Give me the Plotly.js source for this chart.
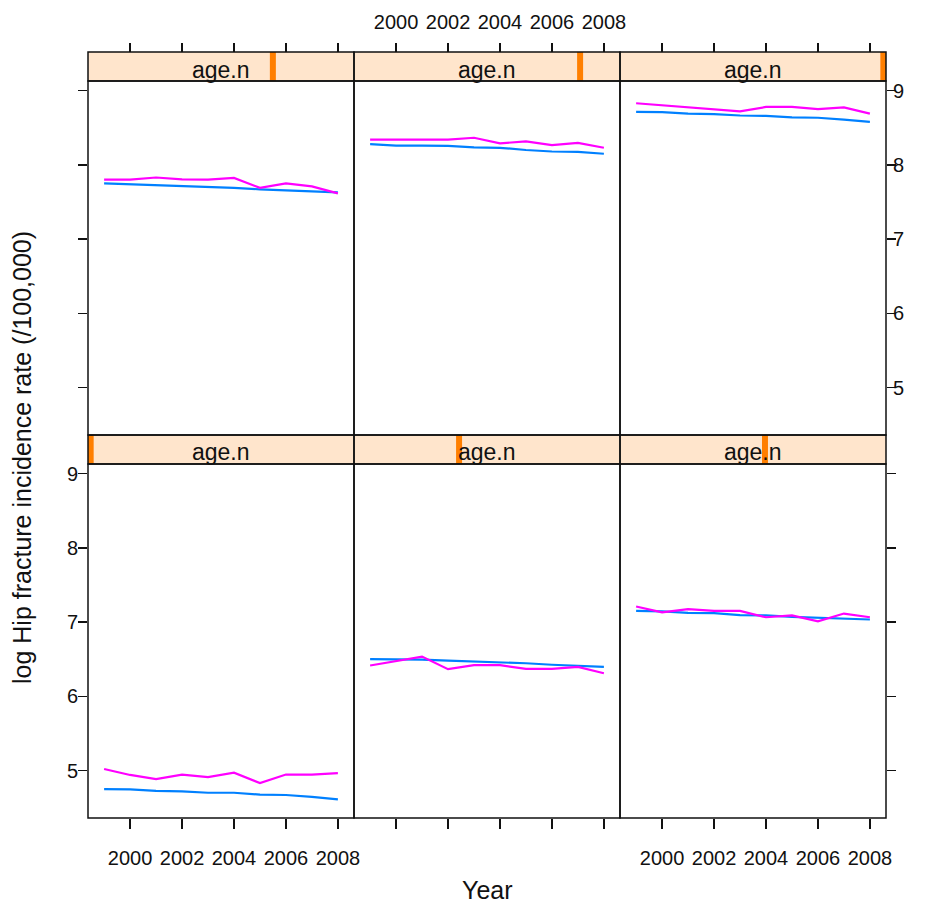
<!DOCTYPE html>
<html>
<head>
<meta charset="utf-8">
<script src="https://cdn.plot.ly/plotly-3.0.1.min.js"></script>
<style>html,body{margin:0;padding:0;background:#fff;}#chart{width:926px;height:907px;}</style>
</head>
<body>
<div id="chart"></div>
<script>
// ---- data ----
const years = [1999, 2000, 2001, 2002, 2003, 2004, 2005, 2006, 2007, 2008];
const xTicks = [2000, 2002, 2004, 2006, 2008];
const yTicks = [5, 6, 7, 8, 9];
const stripLabel = "age.n";
// panels in lattice order: bottom-left, bottom-middle, bottom-right, top-left, top-middle, top-right
const blue1 = [4.75, 4.745, 4.725, 4.72, 4.70, 4.70, 4.675, 4.67, 4.645, 4.61];
const mag1  = [5.02, 4.94, 4.885, 4.945, 4.91, 4.97, 4.83, 4.945, 4.945, 4.965];
const blue2 = [6.50, 6.50, 6.495, 6.48, 6.47, 6.455, 6.445, 6.425, 6.405, 6.395];
const mag2  = [6.415, 6.475, 6.535, 6.365, 6.42, 6.42, 6.37, 6.37, 6.395, 6.31];
const blue3 = [7.15, 7.145, 7.125, 7.12, 7.095, 7.09, 7.07, 7.06, 7.04, 7.035];
const mag3  = [7.21, 7.13, 7.175, 7.15, 7.15, 7.065, 7.09, 7.01, 7.115, 7.065];
const blue4 = [7.75, 7.74, 7.72, 7.71, 7.70, 7.69, 7.67, 7.66, 7.645, 7.63];
const mag4  = [7.80, 7.80, 7.83, 7.805, 7.80, 7.825, 7.69, 7.75, 7.71, 7.615];
const blue5 = [8.28, 8.26, 8.26, 8.255, 8.235, 8.23, 8.20, 8.18, 8.175, 8.15];
const mag5  = [8.34, 8.34, 8.34, 8.34, 8.365, 8.29, 8.315, 8.265, 8.295, 8.23];
const blue6 = [8.715, 8.71, 8.69, 8.685, 8.665, 8.66, 8.64, 8.635, 8.61, 8.58];
const mag6  = [8.83, 8.805, 8.78, 8.75, 8.72, 8.78, 8.78, 8.75, 8.775, 8.69];
// shingle level position of age.n within each strip (0..1)
const stripLevel = [0.01, 0.395, 0.545, 0.695, 0.85, 0.99];

const blueSeries = [blue1, blue2, blue3, blue4, blue5, blue6];
const magSeries = [mag1, mag2, mag3, mag4, mag5, mag6];

// ---- layout geometry (pixels) ----
const W = 926, H = 907;
const px = v => v / W;
const py = v => 1 - v / H;
const colX = [[88, 354], [354, 620], [620, 886]];
const rowPanel = { bottom: [464, 818], top: [81, 435] };
const rowStrip = { bottom: [435, 464], top: [52, 81] };
const xRange = [1998.38, 2008.62];
const yRange = [4.36, 9.13];
const FONT = "Arial, 'Liberation Sans', sans-serif";
const BLUE = "#0080ff", MAG = "#ff00ff";
const TICKFONT = { family: FONT, size: 20, color: "#111" };

const traces = [];
const layout = {
  width: W, height: H,
  margin: { l: 0, r: 0, t: 0, b: 0 },
  paper_bgcolor: "#fff", plot_bgcolor: "rgba(0,0,0,0)",
  showlegend: false,
  font: { family: FONT, color: "#111" },
  shapes: [], annotations: []
};

for (let i = 0; i < 6; i++) {
  const n = i + 1;
  const col = i % 3;
  const row = i < 3 ? "bottom" : "top";
  const [x0, x1] = colX[col];
  const [p0, p1] = rowPanel[row];
  const [s0, s1] = rowStrip[row];
  const xa = "xaxis" + n, ya = "yaxis" + n;

  const xAx = {
    domain: [px(x0), px(x1)], range: xRange, anchor: "y" + n,
    showgrid: false, zeroline: false, showline: false,
    tickvals: xTicks, ticktext: xTicks.map(String),
    ticks: "", showticklabels: false, fixedrange: true,
    tickfont: TICKFONT
  };
  if (row === "bottom") {
    xAx.ticks = "outside"; xAx.ticklen = 10; xAx.tickwidth = 1.5; xAx.tickcolor = "#111";
    xAx.showticklabels = (col !== 1);
    xAx.ticklabelstandoff = 12;
  }
  layout[xa] = xAx;

  const yAx = {
    domain: [py(p1), py(p0)], range: yRange, anchor: "x" + n,
    showgrid: false, zeroline: false, showline: false,
    tickvals: yTicks, ticktext: yTicks.map(String),
    ticks: "", showticklabels: false, fixedrange: true,
    tickfont: TICKFONT
  };
  if (col === 0) {
    yAx.side = "left"; yAx.ticks = "outside"; yAx.ticklen = 9; yAx.tickwidth = 1.5; yAx.tickcolor = "#111";
    yAx.showticklabels = (row === "bottom"); yAx.ticklabelstandoff = -4;
  }
  if (col === 2) {
    yAx.side = "right"; yAx.ticks = "outside"; yAx.ticklen = 9; yAx.tickwidth = 1.5; yAx.tickcolor = "#111";
    yAx.showticklabels = (row === "top"); yAx.ticklabelstandoff = -7;
  }
  layout[ya] = yAx;

  traces.push({ x: years, y: blueSeries[i], xaxis: "x" + n, yaxis: "y" + n, type: "scatter", mode: "lines",
    line: { color: BLUE, width: 2.2 }, hoverinfo: "skip" });
  traces.push({ x: years, y: magSeries[i], xaxis: "x" + n, yaxis: "y" + n, type: "scatter", mode: "lines",
    line: { color: MAG, width: 2.2 }, hoverinfo: "skip" });

  // strip background
  layout.shapes.push({ type: "rect", xref: "paper", yref: "paper",
    x0: px(x0), x1: px(x1), y0: py(s1), y1: py(s0),
    fillcolor: "#ffe5cc", line: { width: 0 }, layer: "below" });
  // shingle bar
  const c = x0 + stripLevel[i] * (x1 - x0);
  layout.shapes.push({ type: "rect", xref: "paper", yref: "paper",
    x0: px(Math.max(x0, c - 3)), x1: px(Math.min(x1, c + 3)), y0: py(s1), y1: py(s0),
    fillcolor: "#ff7f00", line: { width: 0 }, layer: "below" });
  // strip border
  layout.shapes.push({ type: "rect", xref: "paper", yref: "paper",
    x0: px(x0), x1: px(x1), y0: py(s1), y1: py(s0),
    fillcolor: "rgba(0,0,0,0)", line: { color: "#111", width: 1.5 } });
  // panel border
  layout.shapes.push({ type: "rect", xref: "paper", yref: "paper",
    x0: px(x0), x1: px(x1), y0: py(p1), y1: py(p0),
    fillcolor: "rgba(0,0,0,0)", line: { color: "#111", width: 1.5 } });
  // strip label
  layout.annotations.push({ xref: "paper", yref: "paper", x: (px(x0) + px(x1)) / 2, y: py((s0 + s1) / 2 + 3),
    text: stripLabel, showarrow: false, xanchor: "center", yanchor: "middle",
    font: { family: FONT, size: 23, color: "#111" } });
}

// top tick axes, above the top strips
for (let col = 0; col < 3; col++) {
  const n = 7 + col;
  const base = 4 + col;
  layout["xaxis" + n] = {
    domain: layout["xaxis" + base].domain, range: xRange, overlaying: "x" + base,
    anchor: "free", position: py(rowStrip.top[0]), side: "top",
    showgrid: false, zeroline: false, showline: false,
    tickvals: xTicks, ticktext: xTicks.map(String),
    ticks: "outside", ticklen: 9, tickwidth: 1.5, tickcolor: "#111",
    showticklabels: (col === 1), ticklabelstandoff: 6, fixedrange: true,
    tickfont: TICKFONT
  };
  traces.push({ x: [], y: [], xaxis: "x" + n, yaxis: "y" + base, type: "scatter", mode: "lines", hoverinfo: "skip" });
}

// axis titles
layout.annotations.push({ xref: "paper", yref: "paper", x: px(487), y: py(890), text: "Year",
  showarrow: false, xanchor: "center", yanchor: "middle", font: { family: FONT, size: 25, color: "#111" } });
layout.annotations.push({ xref: "paper", yref: "paper", x: px(22), y: py(458), text: "log Hip fracture incidence rate (/100,000)",
  textangle: -90, showarrow: false, xanchor: "center", yanchor: "middle", font: { family: FONT, size: 25, color: "#111" } });

Plotly.newPlot("chart", traces, layout, { staticPlot: true, displayModeBar: false });
</script>
</body>
</html>
